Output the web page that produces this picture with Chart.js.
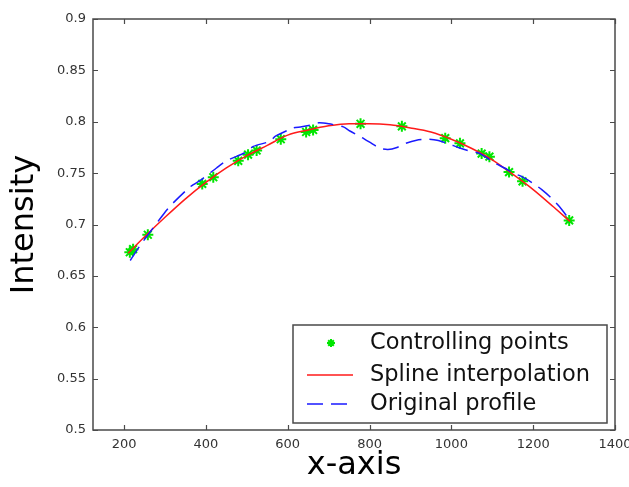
<!DOCTYPE html>
<html>
<head>
<meta charset="utf-8">
<script src="https://cdn.jsdelivr.net/npm/chart.js@4.4.0/dist/chart.umd.min.js"></script>
<style>
html,body{margin:0;padding:0;background:#fff;}
#wrap{width:629px;height:487px;}
</style>
</head>
<body>
<div id="wrap"><canvas id="c" width="629" height="487"></canvas></div>
<script>
// ---- data ----
const xTickValues = [200, 400, 600, 800, 1000, 1200, 1400];
const yTickValues = [0.5, 0.55, 0.6, 0.65, 0.7, 0.75, 0.8, 0.85, 0.9];
const yTickLabels = ['0.5', '0.55', '0.6', '0.65', '0.7', '0.75', '0.8', '0.85', '0.9'];
const seriesNames = ['Controlling points', 'Spline interpolation', 'Original profile'];
const xAxisTitle = 'x-axis';
const yAxisTitle = 'Intensity';

const controlX = [214, 222, 258, 391, 418, 479, 503, 524, 583, 645, 662, 778, 879, 985, 1021, 1074, 1093, 1141, 1174, 1288];
const controlY = [0.673, 0.676, 0.690, 0.7395, 0.746, 0.762, 0.768, 0.772, 0.783, 0.790, 0.792, 0.798, 0.7955, 0.784, 0.779, 0.769, 0.766, 0.751, 0.742, 0.704];

const splineX = [210, 250, 300, 350, 400, 450, 500, 550, 600, 650, 700, 750, 800, 850, 900, 950, 1000, 1050, 1100, 1150, 1200, 1250, 1290];
const splineY = [0.672, 0.688, 0.707, 0.725, 0.741, 0.755, 0.767, 0.777, 0.787, 0.792, 0.796, 0.798, 0.798, 0.797, 0.794, 0.790, 0.783, 0.774, 0.763, 0.749, 0.734, 0.717, 0.703];

const profileX = [215, 240, 268, 300, 320, 361, 390, 426, 450, 496, 516, 557, 570, 614, 631, 659, 676, 700, 736, 752, 780, 805, 826, 845, 867, 889, 915, 940, 965, 990, 1017, 1040, 1070, 1090, 1110, 1130, 1152, 1170, 1200, 1221, 1241, 1265, 1290];
const profileY = [0.665, 0.680, 0.695, 0.712, 0.721, 0.7365, 0.744, 0.755, 0.762, 0.770, 0.776, 0.781, 0.786, 0.794, 0.795, 0.797, 0.799, 0.798, 0.795, 0.791, 0.785, 0.779, 0.774, 0.773, 0.775, 0.779, 0.782, 0.783, 0.782, 0.779, 0.775, 0.772, 0.769, 0.764, 0.759, 0.755, 0.750, 0.747, 0.740, 0.734, 0.727, 0.717, 0.704];

const toPts = (xs, ys) => xs.map((x, i) => ({x: x, y: ys[i]}));

const FONT = '"DejaVu Sans", "Liberation Sans", sans-serif';
const AXIS_COLOR = '#4a4a4a';

// frame with inward ticks on all four sides (MATLAB "box on")
const framePlugin = {
  id: 'frame',
  afterDraw(chart) {
    const {ctx, chartArea: a, scales} = chart;
    const xs = scales.x, ys = scales.y;
    ctx.save();
    ctx.strokeStyle = AXIS_COLOR;
    ctx.lineWidth = 1.5;
    ctx.setLineDash([]);
    ctx.strokeRect(a.left, a.top, a.right - a.left, a.bottom - a.top);
    ctx.lineWidth = 1.2;
    const tl = 5;
    ctx.beginPath();
    xTickValues.forEach(v => {
      const px = Math.round(xs.getPixelForValue(v)) + 0.5;
      ctx.moveTo(px, a.bottom); ctx.lineTo(px, a.bottom - tl);
      ctx.moveTo(px, a.top); ctx.lineTo(px, a.top + tl);
    });
    yTickValues.forEach(v => {
      const py = Math.round(ys.getPixelForValue(v)) + 0.5;
      ctx.moveTo(a.left, py); ctx.lineTo(a.left + tl, py);
      ctx.moveTo(a.right, py); ctx.lineTo(a.right - tl, py);
    });
    ctx.stroke();
    ctx.restore();
  }
};

// boxed legend in the lower right of the plot area
const boxLegendPlugin = {
  id: 'boxLegend',
  afterDraw(chart) {
    const {ctx, chartArea: a} = chart;
    const w = 314, h = 98;
    const x0 = a.right - 8 - w, y0 = a.bottom - 7 - h;
    ctx.save();
    ctx.fillStyle = '#ffffff';
    ctx.fillRect(x0, y0, w, h);
    ctx.strokeStyle = AXIS_COLOR;
    ctx.lineWidth = 1.5;
    ctx.strokeRect(x0, y0, w, h);
    const rows = [18, 50, 79];
    chart.data.datasets.forEach((ds, i) => {
      const y = y0 + rows[i];
      if (ds.showLine) {
        ctx.save();
        ctx.strokeStyle = ds.borderColor;
        ctx.lineWidth = ds.borderWidth;
        ctx.setLineDash(ds.borderDash || []);
        ctx.beginPath();
        ctx.moveTo(x0 + 14, y);
        ctx.lineTo(x0 + 60, y);
        ctx.stroke();
        ctx.restore();
      } else {
        ctx.save();
        ctx.strokeStyle = ds.pointBorderColor;
        ctx.lineWidth = 2;
        Chart.helpers.drawPoint(ctx, {pointStyle: 'star', radius: 4, rotation: 0, borderWidth: 2}, x0 + 38, y);
        ctx.restore();
      }
      ctx.fillStyle = '#111';
      ctx.font = '22.5px ' + FONT;
      ctx.textBaseline = 'middle';
      ctx.textAlign = 'left';
      ctx.fillText(ds.label, x0 + 77, y);
    });
    ctx.restore();
  }
};

new Chart(document.getElementById('c'), {
  type: 'scatter',
  data: {
    datasets: [
      {
        label: seriesNames[0],
        data: toPts(controlX, controlY),
        showLine: false,
        pointStyle: 'star',
        pointRadius: 5.5,
        pointBorderWidth: 2,
        pointBorderColor: '#00e600',
        pointBackgroundColor: '#00e600',
        order: 3
      },
      {
        label: seriesNames[1],
        data: toPts(splineX, splineY),
        showLine: true,
        borderColor: '#ff1a1a',
        borderWidth: 1.5,
        pointRadius: 0,
        tension: 0.4,
        cubicInterpolationMode: 'monotone',
        order: 2
      },
      {
        label: seriesNames[2],
        data: toPts(profileX, profileY),
        showLine: true,
        borderColor: '#1a1aff',
        borderWidth: 1.5,
        borderDash: [16, 8],
        pointRadius: 0,
        tension: 0.2,
        order: 1
      }
    ]
  },
  options: {
    responsive: false,
    devicePixelRatio: 1,
    animation: false,
    events: [],
    layout: {padding: {left: 0, right: 14, top: 19, bottom: 0}},
    plugins: {legend: {display: false}, tooltip: {enabled: false}},
    scales: {
      x: {
        type: 'linear',
        min: 124,
        max: 1400,
        grid: {display: false, drawTicks: false},
        border: {display: false},
        afterBuildTicks: (s) => { s.ticks = xTickValues.map(v => ({value: v})); },
        afterFit: (s) => { s.height = 57; s.paddingLeft = 0; s.paddingRight = 0; },
        ticks: {
          color: '#333',
          font: {family: FONT, size: 13},
          padding: 7,
          maxRotation: 0,
          autoSkip: false,
          callback: (v) => String(v)
        },
        title: {
          display: true,
          text: xAxisTitle,
          color: '#000',
          font: {family: FONT, size: 32},
          padding: {top: 0, bottom: 2}
        }
      },
      y: {
        type: 'linear',
        min: 0.5,
        max: 0.9,
        grid: {display: false, drawTicks: false},
        border: {display: false},
        afterBuildTicks: (s) => { s.ticks = yTickValues.map(v => ({value: v})); },
        afterFit: (s) => { s.width = 93; s.paddingTop = 0; s.paddingBottom = 0; },
        ticks: {
          color: '#333',
          font: {family: FONT, size: 13},
          padding: 7,
          autoSkip: false,
          callback: (v) => yTickLabels[yTickValues.findIndex(t => Math.abs(t - v) < 1e-9)]
        },
        title: {
          display: true,
          text: yAxisTitle,
          color: '#000',
          font: {family: FONT, size: 32},
          padding: {top: 5, bottom: 0}
        }
      }
    }
  },
  plugins: [framePlugin, boxLegendPlugin]
});
</script>
</body>
</html>
